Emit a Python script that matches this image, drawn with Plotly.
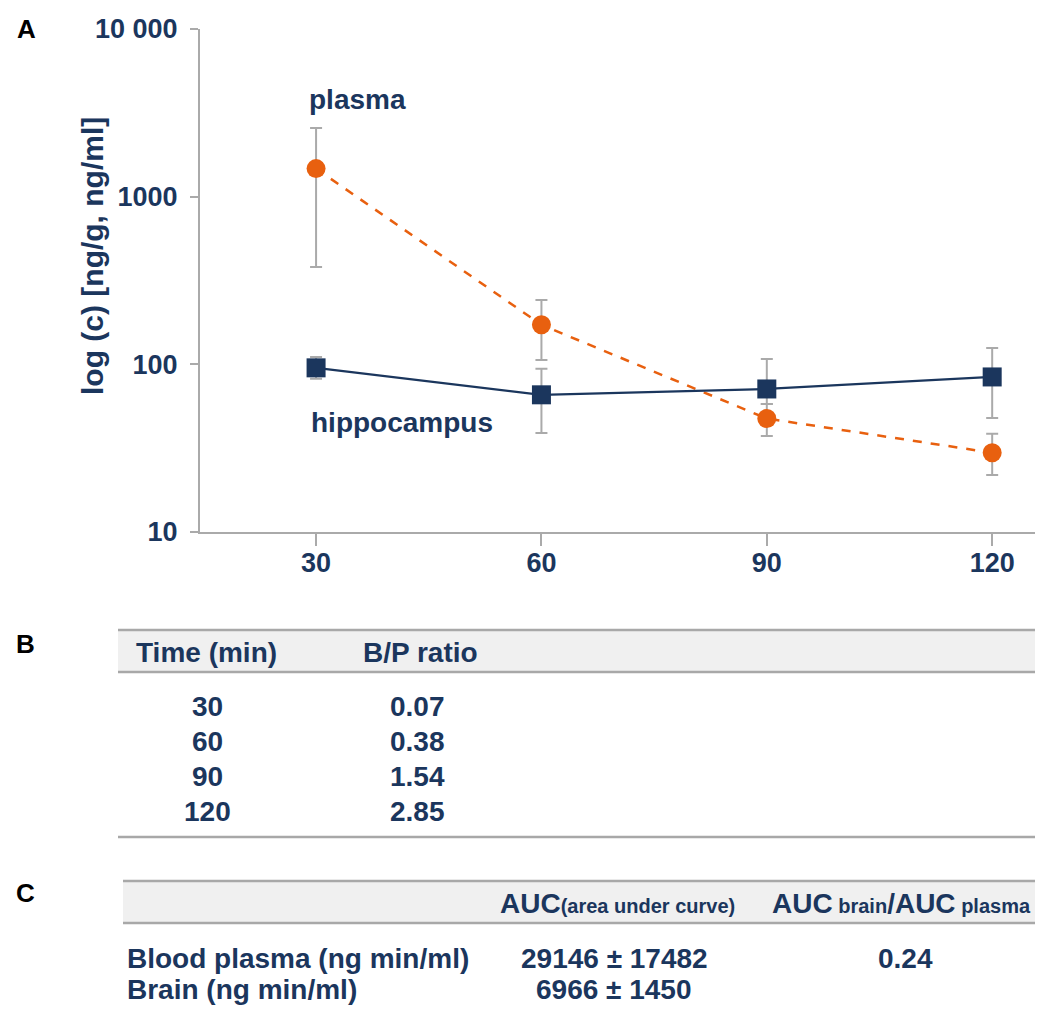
import plotly.graph_objects as go

# ---------------- data ----------------
time_min = [30, 60, 90, 120]
plasma = [1470, 172, 47.5, 29.7]
plasma_err_plus = [1100, 70, 10.5, 8.8]
plasma_err_minus = [1089, 66, 10.1, 7.8]
hippocampus = [95.3, 65.8, 71.3, 84.1]
hippo_err_plus = [15.3, 28.2, 36.4, 40.9]
hippo_err_minus = [13.4, 26.8, 13.3, 36.2]

y_tickvals = [10, 100, 1000, 10000]
y_ticktext = ["10", "100", "1000", "10 000"]

table_b_header = ["Time (min)", "B/P ratio"]
table_b_time = ["30", "60", "90", "120"]
table_b_ratio = ["0.07", "0.38", "1.54", "2.85"]

table_c_rows = ["Blood plasma (ng min/ml)", "Brain (ng min/ml)"]
table_c_auc = ["29146 ± 17482", "6966 ± 1450"]
table_c_ratio = ["0.24", ""]

NAVY = "#1B365D"
ORANGE = "#E8600F"
GRAY = "#AAAAAA"
FONT = "Liberation Sans, Arial, sans-serif"

W, H = 1040, 1023
L, R, T, B = 200, 5, 29, 491
PW, PH = W - L - R, H - T - B


def px(x):
    return (x - L) / PW


def py(y):
    return (H - B - y) / PH


fig = go.Figure()

fig.add_trace(go.Scatter(
    x=time_min, y=plasma, mode="lines+markers", name="plasma",
    line=dict(color=ORANGE, width=2.5, dash="dash"),
    marker=dict(symbol="circle", size=19, color=ORANGE),
    error_y=dict(type="data", symmetric=False, array=plasma_err_plus,
                 arrayminus=plasma_err_minus, color=GRAY, thickness=2, width=6),
))
fig.add_trace(go.Scatter(
    x=time_min, y=hippocampus, mode="lines+markers", name="hippocampus",
    line=dict(color=NAVY, width=2.2),
    marker=dict(symbol="square", size=19, color=NAVY),
    error_y=dict(type="data", symmetric=False, array=hippo_err_plus,
                 arrayminus=hippo_err_minus, color=GRAY, thickness=2, width=6),
))

ann = []
shapes = []


def text(x, y, s, size=28, color=NAVY, xanchor="center"):
    ann.append(dict(x=px(x), y=py(y), xref="paper", yref="paper", text=s,
                    showarrow=False, xanchor=xanchor, yanchor="middle",
                    font=dict(family=FONT, size=size, color=color, weight="bold")))


# panel letters
text(26, 29, "A", size=26, color="black")
text(25, 644, "B", size=26, color="black")
text(25, 893, "C", size=26, color="black")

# series labels
text(357, 99, "plasma")
text(402, 422, "hippocampus")

# y-axis title
ann.append(dict(x=px(92), y=py(256), xref="paper", yref="paper",
                text="log (c) [ng/g, ng/ml]", showarrow=False, textangle=-90,
                xanchor="center", yanchor="middle",
                font=dict(family=FONT, size=30, color=NAVY, weight="bold")))


def band(x0, x1, y0, y1):
    shapes.append(dict(type="rect", xref="paper", yref="paper",
                       x0=px(x0), x1=px(x1), y0=py(y0), y1=py(y1),
                       fillcolor="#F0F0F0", line=dict(width=0), layer="below"))


def hline(x0, x1, y):
    shapes.append(dict(type="line", xref="paper", yref="paper",
                       x0=px(x0), x1=px(x1), y0=py(y), y1=py(y),
                       line=dict(color="#A8A8A8", width=2.5)))


# ---------- table B ----------
band(118, 1035, 630, 672)
hline(118, 1035, 630)
hline(118, 1035, 672)
hline(118, 1035, 837)
text(206, 652, table_b_header[0], size=28)
text(420, 652, table_b_header[1], size=28)
for i, (t, r) in enumerate(zip(table_b_time, table_b_ratio)):
    yy = 706 + i * 35.3
    text(207, yy, t, size=28)
    text(417, yy, r, size=28)

# ---------- table C ----------
band(123, 1035, 881, 923)
hline(123, 1035, 881)
hline(123, 1035, 923)
text(617, 903, "AUC<span style='font-size:20px'>(area under curve)</span>", size=28)
text(901, 903, "AUC<span style='font-size:20px'> brain</span>/AUC<span style='font-size:20px'> plasma</span>", size=28)
for i, (lab, auc, rat) in enumerate(zip(table_c_rows, table_c_auc, table_c_ratio)):
    yy = 959 + i * 31
    text(125, yy, lab, size=28, xanchor="left")
    text(614, yy, auc, size=28)
    if rat:
        text(905, yy, rat, size=28)

fig.update_layout(
    width=W, height=H,
    margin=dict(l=L, r=R, t=T, b=B, pad=0),
    paper_bgcolor="white", plot_bgcolor="white",
    showlegend=False,
    annotations=ann, shapes=shapes,
    font=dict(family=FONT, color=NAVY),
    xaxis=dict(range=[14.55, 125.7], tickvals=time_min,
               ticktext=[str(t) for t in time_min],
               showline=True, linecolor=GRAY, linewidth=2,
               ticks="outside", ticklen=12, tickwidth=2, tickcolor=GRAY,
               showgrid=False, zeroline=False, ticklabelstandoff=-6,
               tickfont=dict(family=FONT, size=27, color=NAVY, weight="bold")),
    yaxis=dict(type="log", range=[1, 4], tickvals=y_tickvals, ticktext=y_ticktext,
               showline=True, linecolor=GRAY, linewidth=2,
               ticks="outside", ticklen=8, tickwidth=2, tickcolor=GRAY,
               showgrid=False, zeroline=False, ticklabelstandoff=7,
               tickfont=dict(family=FONT, size=27, color=NAVY, weight="bold")),
)

fig.write_html("out.html")
